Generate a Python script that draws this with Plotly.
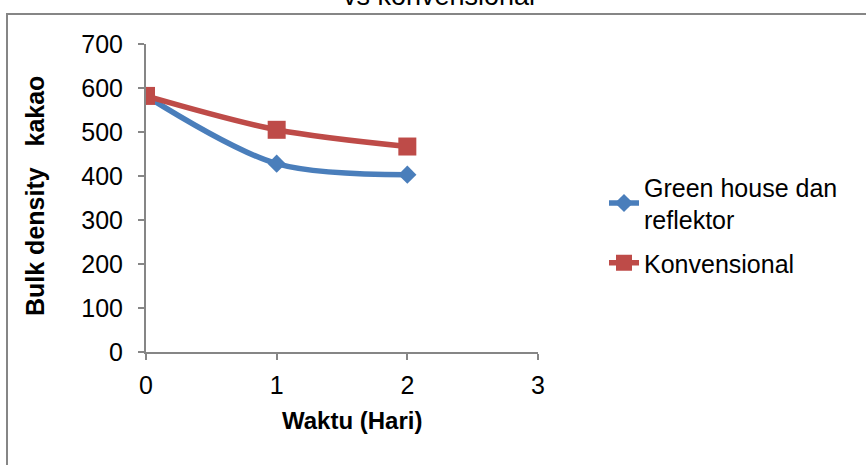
import plotly.graph_objects as go

# Drying time (days) and cocoa bulk density for the two drying methods
waktu = [0, 1, 2]
green_house = [582, 428, 403]
konvensional = [582, 505, 467]
series_names = ["Green house dan<br>reflektor", "Konvensional"]
x_ticks = [0, 1, 2, 3]
y_ticks = [0, 100, 200, 300, 400, 500, 600, 700]

W, H = 866, 465
FONT = "Liberation Sans, Arial, sans-serif"
AXIS_GREY = "#868686"

fig = go.Figure()
fig.add_trace(go.Scatter(
    x=waktu, y=green_house, name=series_names[0], mode="lines+markers",
    legendgroup="gh",
    line=dict(color="#4a7ebb", width=5.5, shape="spline", smoothing=0.9),
    marker=dict(symbol="diamond", size=14, color="#4a7ebb"),
))
fig.add_trace(go.Scatter(
    x=waktu, y=konvensional, name=series_names[1], mode="lines+markers",
    legendgroup="kv",
    line=dict(color="#be4b48", width=5.5, shape="spline", smoothing=0.9),
    marker=dict(symbol="square", size=18, color="#be4b48"),
))

# plot area in pixels
x0, x1 = 146, 538
ytop, ybot = 44, 352

fig.update_layout(
    width=W, height=H,
    margin=dict(l=0, r=0, t=0, b=0, autoexpand=False),
    paper_bgcolor="white", plot_bgcolor="white",
    font=dict(family=FONT, size=25, color="black"),
    showlegend=True,
    legend=dict(
        x=604 / W, y=1 - 164 / H, xanchor="left", yanchor="top",
        font=dict(family=FONT, size=25, color="black"),
        bgcolor="rgba(0,0,0,0)", traceorder="grouped", tracegroupgap=8,
        itemwidth=30,
    ),
    xaxis=dict(
        domain=[x0 / W, x1 / W], range=[0, 3],
        tickvals=x_ticks, ticktext=[str(v) for v in x_ticks],
        showgrid=False, zeroline=False,
        showline=True, linecolor=AXIS_GREY, linewidth=2,
        ticks="outside", ticklen=6, tickcolor=AXIS_GREY, tickwidth=2,
        ticklabelstandoff=4,
        tickfont=dict(family=FONT, size=25), anchor="y",
    ),
    yaxis=dict(
        domain=[1 - ybot / H, 1 - ytop / H], range=[0, 700],
        tickvals=y_ticks, ticktext=[str(v) for v in y_ticks],
        showgrid=False, zeroline=False,
        showline=True, linecolor=AXIS_GREY, linewidth=2,
        ticks="outside", ticklen=6, tickcolor=AXIS_GREY, tickwidth=2,
        ticklabelstandoff=10,
        tickfont=dict(family=FONT, size=25), anchor="x",
    ),
    shapes=[
        # chart frame
        dict(type="rect", xref="paper", yref="paper",
             x0=7 / W, x1=1.01, y0=-0.01, y1=1 - 14 / H,
             line=dict(color=AXIS_GREY, width=2), fillcolor="rgba(0,0,0,0)",
             layer="below"),
    ],
    annotations=[
        dict(text="vs konvensional", xref="paper", yref="paper",
             x=439 / W, y=1 - 13 / H, xanchor="center", yanchor="bottom",
             showarrow=False, font=dict(family=FONT, size=27, color="black")),
        dict(text="<b>Waktu (Hari)</b>", xref="paper", yref="paper",
             x=352 / W, y=1 - 420 / H, xanchor="center", yanchor="middle",
             showarrow=False, font=dict(family=FONT, size=24, color="black")),
        dict(text="<b>Bulk density\u00a0\u00a0\u00a0kakao</b>", xref="paper",
             yref="paper", x=35 / W, y=1 - 196 / H, xanchor="center",
             yanchor="middle", textangle=-90, showarrow=False,
             font=dict(family=FONT, size=25, color="black")),
    ],
)

fig.write_html("out.html")
